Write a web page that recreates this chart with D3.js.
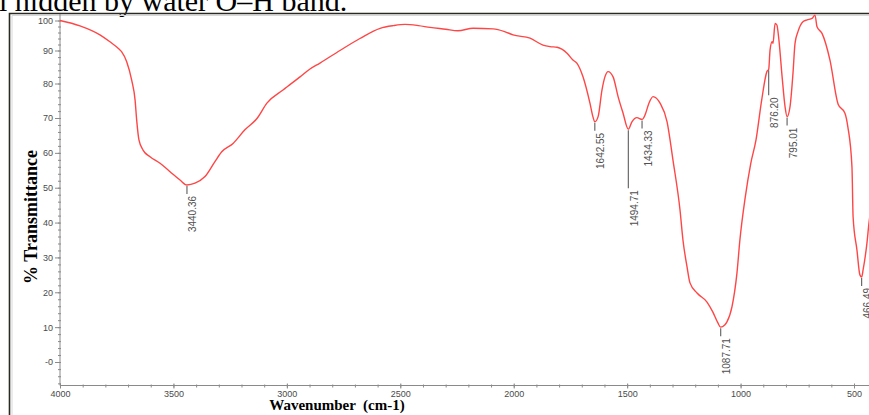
<!DOCTYPE html>
<html>
<head>
<meta charset="utf-8">
<script src="https://cdn.jsdelivr.net/npm/d3@7"></script>
<style>
  body { margin: 0; background: #fff; overflow: hidden; }
  svg { display: block; }
</style>
</head>
<body>
<div id="chart"></div>
<script>
// spectrum (wavenumber cm-1 / %T)
const wavenumber = [4000, 3912, 3824, 3780, 3740, 3728, 3706, 3684, 3669, 3662, 3652, 3634, 3603, 3559, 3515, 3471, 3441, 3405, 3361, 3317, 3287, 3237, 3185, 3130, 3088, 3017, 2942, 2898, 2854, 2766, 2678, 2589, 2530, 2479, 2420, 2369, 2300, 2246, 2179, 2091, 2040, 2003, 1928, 1871, 1840, 1809, 1765, 1739, 1721, 1695, 1664, 1651, 1642.5, 1628, 1611, 1598, 1584, 1562, 1540, 1518, 1495, 1479, 1457, 1434, 1421, 1404, 1386, 1355, 1324, 1298, 1267, 1254, 1236, 1223, 1192, 1148, 1122, 1100, 1088, 1070, 1060, 1038, 1016, 1003, 980, 955, 932, 907, 884, 876, 870, 861, 857, 848, 840, 831, 817, 804, 795, 782, 769, 760, 747, 725, 707, 685, 672, 663, 641, 606, 570, 540, 527, 509, 504, 487, 474, 466, 460, 443, 434, 420];
const transmittance = [100, 98.2, 95.2, 92.9, 90.5, 89.6, 86.6, 81, 75.2, 69.4, 63.7, 60.8, 58.9, 57, 54.6, 52.2, 50.8, 51.3, 53.2, 57.5, 60.3, 62.7, 66.6, 70.0, 74.3, 78.1, 82, 84.4, 86.2, 90, 94, 97.4, 98.3, 98.7, 98.3, 97.7, 97.1, 96.6, 97.4, 97.2, 96.3, 95.2, 94.1, 91.8, 91.3, 91.1, 89.2, 87.1, 86.1, 82.1, 74.3, 70.4, 68.9, 70.4, 78.1, 82, 83.6, 82, 76.2, 71.4, 66.8, 68.9, 70.1, 69.6, 70.9, 74.3, 76.2, 74.3, 68.9, 57.9, 43.6, 35, 27.3, 22.7, 19.8, 17.2, 14.3, 11.2, 10.0, 10.6, 11.5, 15.8, 25.5, 35, 47, 57, 63.7, 75.2, 83.6, 84.3, 90.2, 92.9, 92.4, 99, 98.5, 93.5, 82.1, 73.3, 70.4, 73.3, 83.1, 92.4, 96.3, 99.6, 100.2, 100.7, 101.8, 97.9, 95.7, 87.1, 74, 71.4, 67.4, 55.9, 41.6, 32.1, 25, 24.4, 26.4, 34.1, 39.9, 46];

// labelled peaks
const peakPositions = [3440.36, 1642.55, 1494.71, 1434.33, 1087.71, 876.20, 795.01, 466.49];
const peakValues = [50.8, 68.9, 66.8, 69.6, 10.0, 84.3, 70.4, 24.4];
const peakLabels = ["3440.36", "1642.55", "1494.71", "1434.33", "1087.71", "876.20", "795.01", "466.49"];

// ticks
const xTicks = [4000, 3500, 3000, 2500, 2000, 1500, 1000, 500];
const yTicks = [0, 10, 20, 30, 40, 50, 60, 70, 80, 90, 100];
const yTickLabels = ["-0", "10", "20", "30", "40", "50", "60", "70", "80", "90", "100"];

const colors = {
  line: "#ff4646",
  axis: "#8a8a8a",
  tickText: "#4a4a4a",
  frame: "#2a2a22",
  leader: "#6a6a6a"
};

const W = 869, H = 415;

const svg = d3.select("#chart").append("svg")
  .attr("width", W)
  .attr("height", H)
  .style("font-family", "'Liberation Sans', Arial, sans-serif");

// clipped caption line above the frame
svg.append("text")
  .attr("x", -1)
  .attr("y", 11)
  .style("font-family", "'Liberation Serif', 'Times New Roman', serif")
  .style("font-size", "30px")
  .attr("fill", "#000")
  .text("l hidden by water O\u2013H band.");

// frame
svg.append("path")
  .attr("d", `M${W + 5},13.5 H9.5 V${H + 5}`)
  .attr("fill", "none")
  .attr("stroke", colors.frame)
  .attr("stroke-width", 1.6);
svg.append("path")
  .attr("d", `M${W + 5},15.5 H12 V${H + 5}`)
  .attr("fill", "none")
  .attr("stroke", "#d8d8d8")
  .attr("stroke-width", 1);

// scales
const x = d3.scaleLinear()
  .domain([4000, 400])
  .range([60, 60 + 3600 * 0.22686]);

// the printed axis is slightly squeezed near the top, so piecewise
const y = d3.scaleLinear()
  .domain([-6.6, 0, 70, 80, 90, 102])
  .range([385.5, 362, 118, 83.5, 50.5, 14.5]);

// x axis
const xAxisG = svg.append("g")
  .attr("transform", "translate(0,385.5)");
xAxisG.call(d3.axisBottom(x).tickValues(d3.range(4000, 399, -100)).tickSize(2).tickFormat(""))
  .call(g => g.select(".domain").remove());
xAxisG.selectAll(".tick line").attr("stroke", colors.axis).attr("y1", -1);
const xMajor = svg.append("g")
  .attr("transform", "translate(0,385.5)")
  .call(d3.axisBottom(x).tickValues(xTicks).tickSize(3).tickFormat(d3.format("d")));
xMajor.select(".domain").attr("stroke", colors.axis).attr("d", `M60,0H${W + 5}`);
xMajor.selectAll(".tick line").attr("stroke", colors.axis).attr("y1", -2);
xMajor.selectAll(".tick text")
  .attr("y", 5)
  .attr("fill", colors.tickText)
  .style("font-size", "9px");

// y axis
const yMinor = svg.append("g")
  .attr("transform", "translate(60,0)")
  .call(d3.axisLeft(y).tickValues(d3.range(-6, 102, 2)).tickSize(2).tickFormat(""));
yMinor.select(".domain").remove();
yMinor.selectAll(".tick line").attr("stroke", colors.axis).attr("x1", 1);
const yMajor = svg.append("g")
  .attr("transform", "translate(60,0)")
  .call(d3.axisLeft(y).tickValues(yTicks).tickSize(5).tickFormat((d, i) => yTickLabels[i]));
yMajor.select(".domain").attr("stroke", colors.axis).attr("d", `M0,14V385.5`);
yMajor.selectAll(".tick line").attr("stroke", colors.axis);
yMajor.selectAll(".tick text")
  .attr("x", -7)
  .attr("fill", colors.tickText)
  .style("font-size", "9px");

// axis titles
svg.append("text")
  .attr("transform", "translate(37,217) rotate(-90)")
  .attr("text-anchor", "middle")
  .style("font-family", "'Liberation Serif', 'Times New Roman', serif")
  .style("font-size", "18px")
  .style("font-weight", "bold")
  .text("% Transmittance");

svg.append("text")
  .attr("x", 337)
  .attr("y", 410)
  .attr("text-anchor", "middle")
  .style("font-family", "'Liberation Serif', 'Times New Roman', serif")
  .style("font-size", "15px")
  .style("font-weight", "bold")
  .style("white-space", "pre")
  .text("Wavenumber  (cm-1)");

// spectrum
const spectrum = wavenumber.map((w, i) => ({ w, t: transmittance[i] }));
const line = d3.line()
  .x(d => x(d.w))
  .y(d => y(d.t))
  .curve(d3.curveMonotoneX);

svg.append("path")
  .datum(spectrum)
  .attr("fill", "none")
  .attr("stroke", colors.line)
  .attr("stroke-width", 1.4)
  .attr("stroke-linejoin", "round")
  .attr("d", line);

// peak markers: short leader under the peak, value rotated below it
const leaderLen = { "1494.71": 58, "876.20": 25 };
const peaks = peakPositions.map((p, i) => ({ p, t: peakValues[i], label: peakLabels[i] }));

const pk = svg.append("g").selectAll("g")
  .data(peaks)
  .enter()
  .append("g");

pk.append("line")
  .attr("x1", d => x(d.p))
  .attr("x2", d => x(d.p))
  .attr("y1", d => y(d.t) + 1)
  .attr("y2", d => y(d.t) + 1 + (leaderLen[d.label] || 8))
  .attr("stroke", colors.leader)
  .attr("stroke-width", 1.2);

pk.append("text")
  .attr("transform", d => `translate(${x(d.p) + 9.5},${y(d.t) + 3 + (leaderLen[d.label] || 8)}) rotate(-90)`)
  .attr("text-anchor", "end")
  .attr("fill", "#505050")
  .style("font-size", "10px")
  .text(d => d.label);
</script>
</body>
</html>
